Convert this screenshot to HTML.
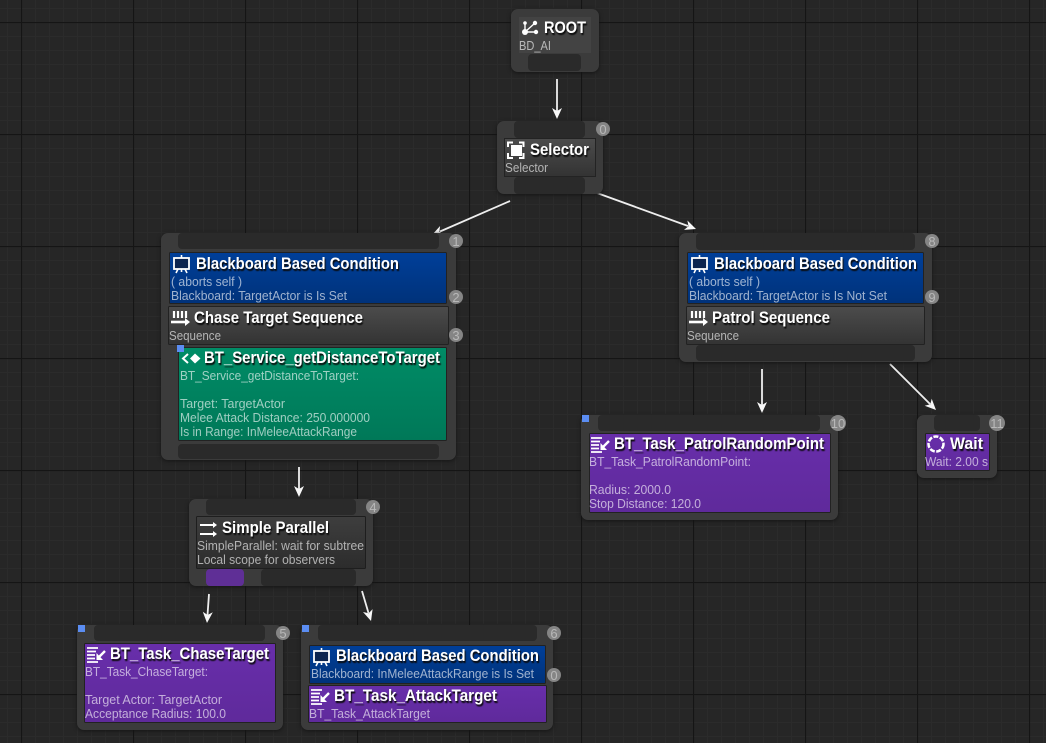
<!DOCTYPE html>
<html><head><meta charset="utf-8"><style>
html,body{margin:0;padding:0;background:#262626;width:1046px;height:743px;overflow:hidden}
svg{display:block}
.t{font:bold 17px "Liberation Sans",sans-serif;fill:#fff;filter:drop-shadow(1.5px 2px 0.4px #0a0a0a)}
.s{font:12.5px "Liberation Sans",sans-serif;fill:#fff;fill-opacity:.62}
.n{fill:#3b3b3b;filter:drop-shadow(0 1px 2px #141414)}.p{fill:#2a2a2a}
.b{font:13px "Liberation Sans",sans-serif;fill:#b8b8b8;text-anchor:middle}
.c{fill:#858585}
.a{stroke:#eee;stroke-width:1.8;fill:none}.h{fill:#f8f8f8}
.i{fill:none;stroke:#fff;stroke-width:2}
.m{fill:#5b8df2}
</style></head><body>
<svg width="1046" height="743" viewBox="0 0 1046 743" xmlns="http://www.w3.org/2000/svg">
<defs>
<pattern id="minor" x="7" y="8" width="14" height="14" patternUnits="userSpaceOnUse"><path d="M0 .5H14M.5 0V14" stroke="#2b2b2b" stroke-width="1"/></pattern>
<pattern id="major" x="21" y="22" width="112" height="112" patternUnits="userSpaceOnUse"><path d="M0 .5H112M.5 0V112" stroke="#151515" stroke-width="1.2"/></pattern>
<linearGradient id="blue" x1="0" y1="0" x2="0" y2="1"><stop offset="0" stop-color="#003f99"/><stop offset="1" stop-color="#00327a"/></linearGradient>
<linearGradient id="purple" x1="0" y1="0" x2="0" y2="1"><stop offset="0" stop-color="#682eab"/><stop offset="1" stop-color="#5f2a9b"/></linearGradient>
<linearGradient id="green" x1="0" y1="0" x2="0" y2="1"><stop offset="0" stop-color="#008c66"/><stop offset="1" stop-color="#007858"/></linearGradient>
<linearGradient id="seq" x1="0" y1="0" x2="0" y2="1"><stop offset="0" stop-color="#4c4c4c"/><stop offset="1" stop-color="#333"/></linearGradient>
<linearGradient id="dk" x1="0" y1="0" x2="0" y2="1"><stop offset="0" stop-color="#3e3e3e"/><stop offset="1" stop-color="#2c2c2c"/></linearGradient>
<g id="board"><rect x="1" y="3" width="15" height="11" fill="#0b2450" stroke="#fff" stroke-width="1.8"/><path d="M8.500 0V3M5 14L3 18M12 14L14 18M8.500 14V17" stroke="#fff" stroke-width="1.6" fill="none"/></g>
<g id="task"><path d="M0 1H11M0 4.500H9M0 8H8M0 11.500H8M0 15H11" stroke="#fff" stroke-width="1.8"/><path d="M18 4L11 11" stroke="#fff" stroke-width="2.4"/><path d="M9.500 6V13H16Z" fill="#fff"/></g>
<g id="seqi"><path d="M3 0V7M7 0V7M11 0V7M15 0V7" stroke="#fff" stroke-width="2.2"/><path d="M0 11H15" stroke="#fff" stroke-width="2.6"/><path d="M14 7L19 11L14 15Z" fill="#fff"/></g>
</defs>
<rect width="1046" height="743" fill="#262626"/>
<rect width="1046" height="743" fill="url(#minor)"/>
<rect width="1046" height="743" fill="url(#major)"/>

<!-- arrows -->
<path class="a" d="M557 79V111M510 201L440 231.500M597 193L688 226M299 467V489M209 594L207.500 615M362 591L368.500 613M762 369V405M890 364L930 404"/>
<path class="h" d="M557 119L552 108L557 111L562 108ZM432 235L440.100 226L439.300 231.800L444.100 235.200ZM696 229L684 229.900L688.500 226.300L687.400 220.500ZM299 497L294 486L299 489L304 486ZM207 623L202.800 611.700L207.600 615L212.800 612.300ZM371 621L363 612L368.700 613.300L372.600 609.100ZM762 413L757 402L762 405L767 402ZM936 410L924.700 405.700L930.300 404.300L931.700 398.700Z"/>

<!-- ROOT -->
<rect class="n" x="511" y="9" width="88" height="63" rx="7"/>
<rect x="519" y="17" width="72" height="36" fill="#434343"/>
<rect class="p" x="528" y="54" width="53" height="17" rx="4"/>
<path d="M525 32L535 23M525 32H536M525 32V24" stroke="#fff" stroke-width="1.4" fill="none"/>
<circle cx="525" cy="32" r="3" fill="#fff"/><circle cx="535" cy="23" r="2.200" fill="#fff"/><circle cx="536" cy="32" r="2.200" fill="#fff"/><circle cx="525" cy="23" r="1.800" fill="#fff"/>
<text class="t" x="544" y="33" textLength="42" lengthAdjust="spacingAndGlyphs">ROOT</text>
<text class="s" x="519" y="50" textLength="32" lengthAdjust="spacingAndGlyphs">BD_AI</text>

<!-- Selector -->
<rect class="n" x="497" y="121" width="106" height="73" rx="7"/>
<rect class="p" x="514" y="121" width="71" height="17" rx="4"/>
<rect class="p" x="514" y="177" width="71" height="17" rx="4"/>
<rect x="504.500" y="138.500" width="91" height="38" fill="url(#seq)" stroke="#232323"/>
<rect x="511" y="145" width="11" height="11" fill="#fff"/>
<path class="i" d="M508 147V142.500H513M519 142.500H523.500V147M523.500 153V158H519M513 158H508V153"/>
<text class="t" x="530" y="155" textLength="59" lengthAdjust="spacingAndGlyphs">Selector</text>
<text class="s" x="505" y="172" textLength="43" lengthAdjust="spacingAndGlyphs">Selector</text>
<circle class="c" cx="603" cy="129" r="7"/><text class="b" x="603" y="134">0</text>

<!-- Left composite -->
<rect class="n" x="161" y="233" width="295" height="227" rx="7"/>
<rect class="p" x="178" y="233" width="261" height="16" rx="4"/>
<rect class="p" x="178" y="444" width="261" height="15" rx="4"/>
<rect x="169.500" y="252.500" width="277" height="51" rx="1" fill="url(#blue)" stroke="#222"/>
<use href="#board" x="173" y="255"/>
<text class="t" x="196" y="269" textLength="203" lengthAdjust="spacingAndGlyphs">Blackboard Based Condition</text>
<text class="s" x="171" y="286" textLength="71" lengthAdjust="spacingAndGlyphs">( aborts self )</text>
<text class="s" x="171" y="300" textLength="176" lengthAdjust="spacingAndGlyphs">Blackboard: TargetActor is Is Set</text>
<rect x="168.500" y="306.500" width="280" height="38" rx="1" fill="url(#seq)" stroke="#222"/>
<use href="#seqi" x="171" y="311"/>
<text class="t" x="194" y="323" textLength="169" lengthAdjust="spacingAndGlyphs">Chase Target Sequence</text>
<text class="s" x="169" y="340" textLength="52" lengthAdjust="spacingAndGlyphs">Sequence</text>
<rect x="178.500" y="347.500" width="268" height="93" rx="1" fill="url(#green)" stroke="#222"/>
<rect class="m" x="177" y="345" width="7" height="7"/>
<path d="M188 354L183 358.500L188 363" class="i"/><path d="M190 358.500L195 353.500L200.500 358.500L195 363.500Z" fill="#fff"/>
<text class="t" x="204" y="363" textLength="236" lengthAdjust="spacingAndGlyphs">BT_Service_getDistanceToTarget</text>
<text class="s" x="180" y="380" textLength="179" lengthAdjust="spacingAndGlyphs">BT_Service_getDistanceToTarget:</text>
<text class="s" x="180" y="408" textLength="105" lengthAdjust="spacingAndGlyphs">Target: TargetActor</text>
<text class="s" x="180" y="422" textLength="190" lengthAdjust="spacingAndGlyphs">Melee Attack Distance: 250.000000</text>
<text class="s" x="180" y="436" textLength="177" lengthAdjust="spacingAndGlyphs">Is in Range: InMeleeAttackRange</text>
<circle class="c" cx="456" cy="241" r="7"/><text class="b" x="456" y="246">1</text>
<circle class="c" cx="456" cy="297" r="7"/><text class="b" x="456" y="302">2</text>
<circle class="c" cx="456" cy="335" r="7"/><text class="b" x="456" y="340">3</text>

<!-- Simple Parallel -->
<rect class="n" x="189" y="499" width="184" height="87" rx="7"/>
<rect class="p" x="206" y="499" width="150" height="16" rx="4"/>
<rect x="206" y="569" width="38" height="17" rx="4" fill="#5f2f96"/>
<rect class="p" x="261" y="569" width="95" height="17" rx="4"/>
<rect x="196.500" y="516.500" width="169" height="52" rx="1" fill="url(#dk)" stroke="#1e1e1e"/>
<path d="M200 525H214M200 534H214" stroke="#fff" stroke-width="2"/><path d="M213 522L217 525L213 528ZM213 531L217 534L213 537Z" fill="#fff"/>
<text class="t" x="222" y="533" textLength="107" lengthAdjust="spacingAndGlyphs">Simple Parallel</text>
<text class="s" x="197" y="550" textLength="167" lengthAdjust="spacingAndGlyphs">SimpleParallel: wait for subtree</text>
<text class="s" x="197" y="564" textLength="138" lengthAdjust="spacingAndGlyphs">Local scope for observers</text>
<circle class="c" cx="373" cy="507" r="7"/><text class="b" x="373" y="512">4</text>

<!-- ChaseTarget -->
<rect class="n" x="77" y="625" width="206" height="105" rx="7"/>
<rect class="p" x="94" y="625" width="171" height="16" rx="4"/>
<rect x="84.500" y="643.500" width="191" height="79" rx="1" fill="url(#purple)" stroke="#222"/>
<rect class="m" x="78" y="625" width="7" height="7"/>
<use href="#task" x="87" y="647"/>
<text class="t" x="110" y="659" textLength="159" lengthAdjust="spacingAndGlyphs">BT_Task_ChaseTarget</text>
<text class="s" x="85" y="676" textLength="123" lengthAdjust="spacingAndGlyphs">BT_Task_ChaseTarget:</text>
<text class="s" x="85" y="704" textLength="137" lengthAdjust="spacingAndGlyphs">Target Actor: TargetActor</text>
<text class="s" x="85" y="718" textLength="141" lengthAdjust="spacingAndGlyphs">Acceptance Radius: 100.0</text>
<circle class="c" cx="283" cy="633" r="7"/><text class="b" x="283" y="638">5</text>

<!-- AttackTarget -->
<rect class="n" x="301" y="625" width="252" height="105" rx="7"/>
<rect class="p" x="318" y="625" width="219" height="16" rx="4"/>
<rect class="m" x="302" y="625" width="7" height="7"/>
<rect x="309.500" y="645.500" width="236" height="38" rx="1" fill="url(#blue)" stroke="#222"/>
<use href="#board" x="313" y="648"/>
<text class="t" x="336" y="661" textLength="203" lengthAdjust="spacingAndGlyphs">Blackboard Based Condition</text>
<text class="s" x="311" y="678" textLength="223" lengthAdjust="spacingAndGlyphs">Blackboard: InMeleeAttackRange is Is Set</text>
<rect x="308.500" y="685.500" width="238" height="37" rx="1" fill="url(#purple)" stroke="#222"/>
<use href="#task" x="311" y="689"/>
<text class="t" x="334" y="701" textLength="163" lengthAdjust="spacingAndGlyphs">BT_Task_AttackTarget</text>
<text class="s" x="309" y="718" textLength="121" lengthAdjust="spacingAndGlyphs">BT_Task_AttackTarget</text>
<circle class="c" cx="554" cy="633" r="7"/><text class="b" x="554" y="638">6</text>
<circle class="c" cx="554" cy="675" r="7"/><text class="b" x="554" y="680">0</text>

<!-- Right composite -->
<rect class="n" x="679" y="233" width="253" height="129" rx="7"/>
<rect class="p" x="696" y="233" width="219" height="17" rx="4"/>
<rect class="p" x="696" y="345" width="219" height="16" rx="4"/>
<rect x="687.500" y="252.500" width="236" height="51" rx="1" fill="url(#blue)" stroke="#222"/>
<use href="#board" x="691" y="255"/>
<text class="t" x="714" y="269" textLength="203" lengthAdjust="spacingAndGlyphs">Blackboard Based Condition</text>
<text class="s" x="689" y="286" textLength="71" lengthAdjust="spacingAndGlyphs">( aborts self )</text>
<text class="s" x="689" y="300" textLength="198" lengthAdjust="spacingAndGlyphs">Blackboard: TargetActor is Is Not Set</text>
<rect x="686.500" y="306.500" width="238" height="38" rx="1" fill="url(#seq)" stroke="#222"/>
<use href="#seqi" x="689" y="311"/>
<text class="t" x="712" y="323" textLength="118" lengthAdjust="spacingAndGlyphs">Patrol Sequence</text>
<text class="s" x="687" y="340" textLength="52" lengthAdjust="spacingAndGlyphs">Sequence</text>
<circle class="c" cx="932" cy="241" r="7"/><text class="b" x="932" y="246">8</text>
<circle class="c" cx="932" cy="297" r="7"/><text class="b" x="932" y="302">9</text>

<!-- Patrol task -->
<rect class="n" x="581" y="415" width="257" height="105" rx="7"/>
<rect class="p" x="598" y="415" width="222" height="16" rx="4"/>
<rect class="m" x="582" y="415" width="7" height="7"/>
<rect x="589.500" y="433.500" width="241" height="79" rx="1" fill="url(#purple)" stroke="#222"/>
<use href="#task" x="591" y="437"/>
<text class="t" x="614" y="449" textLength="210" lengthAdjust="spacingAndGlyphs">BT_Task_PatrolRandomPoint</text>
<text class="s" x="589" y="466" textLength="162" lengthAdjust="spacingAndGlyphs">BT_Task_PatrolRandomPoint:</text>
<text class="s" x="589" y="494" textLength="82" lengthAdjust="spacingAndGlyphs">Radius: 2000.0</text>
<text class="s" x="589" y="508" textLength="112" lengthAdjust="spacingAndGlyphs">Stop Distance: 120.0</text>
<circle class="c" cx="838" cy="423" r="8"/><text class="b" x="838" y="428">10</text>

<!-- Wait -->
<rect class="n" x="917" y="415" width="80" height="63" rx="7"/>
<rect class="p" x="934" y="415" width="46" height="16" rx="4"/>
<rect x="925.500" y="433.500" width="64" height="37" rx="1" fill="url(#purple)" stroke="#222"/>
<circle cx="936" cy="444" r="7.500" fill="none" stroke="#fff" stroke-width="2.500" stroke-dasharray="5 1.500"/>
<text class="t" x="950" y="449" textLength="33" lengthAdjust="spacingAndGlyphs">Wait</text>
<text class="s" x="925" y="466" textLength="63" lengthAdjust="spacingAndGlyphs">Wait: 2.00 s</text>
<circle class="c" cx="997" cy="423" r="8"/><text class="b" x="997" y="428">11</text>
</svg>
</body></html>
